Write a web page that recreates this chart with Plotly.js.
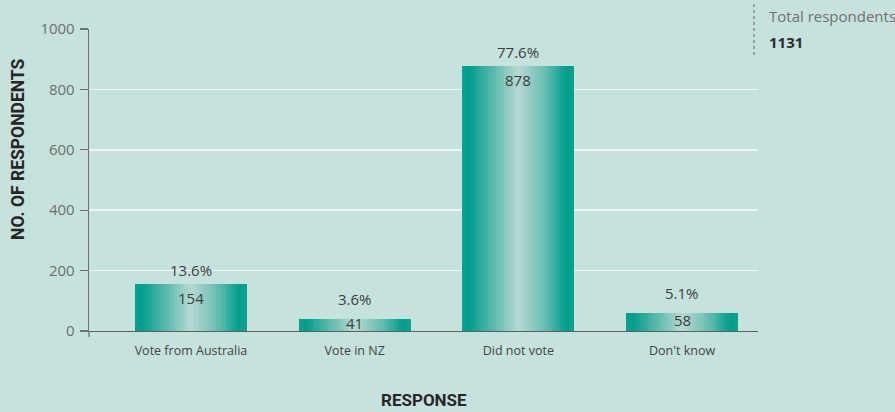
<!DOCTYPE html>
<html>
<head>
<meta charset="utf-8">
<script src="https://cdn.plot.ly/plotly-3.0.1.min.js"></script>
<style>
  html, body { margin: 0; padding: 0; background: #c6e2dd; }
  #chart { width: 895px; height: 412px; }
</style>
</head>
<body>
<div id="chart"></div>
<script>
// ---- data ----
const categories = ["Vote from Australia", "Vote in NZ", "Did not vote", "Don't know"];
const respondents = [154, 41, 878, 58];
const percentLabels = ["13.6%", "3.6%", "77.6%", "5.1%"];
const totalRespondents = 1131;
const yTicks = [0, 200, 400, 600, 800, 1000];

// ---- styling ----
const BG = "#c6e2dd";
const FONT = "Open Sans, Noto Sans, sans-serif";
const BAR_W = 0.684;
const N_SLICES = 40;
// horizontal gradient profile across bar width: [position, [r,g,b]]
const profile = [
  [0.00, [10, 160, 142]],
  [0.06, [0, 158, 140]],
  [0.25, [80, 182, 168]],
  [0.50, [182, 217, 211]],
  [0.72, [110, 192, 180]],
  [0.93, [0, 158, 140]],
  [1.00, [12, 162, 144]]
];
function colorAt(t) {
  for (let k = 0; k < profile.length - 1; k++) {
    const [p0, c0] = profile[k], [p1, c1] = profile[k + 1];
    if (t >= p0 && t <= p1) {
      const f = (t - p0) / (p1 - p0);
      const c = c0.map((v, j) => Math.round(v + (c1[j] - v) * f));
      return `rgb(${c[0]},${c[1]},${c[2]})`;
    }
  }
  return "rgb(0,158,140)";
}

const traces = [];
// base bar
traces.push({
  type: "bar", x: categories, y: respondents,
  width: BAR_W, marker: { color: "rgb(0,158,140)", line: { width: 0 } },
  hoverinfo: "x+y"
});
// gradient slices
const sw = BAR_W / N_SLICES;
for (let i = 0; i < N_SLICES; i++) {
  const t = (i + 0.5) / N_SLICES;
  const w = i === N_SLICES - 1 ? sw : sw * 1.25;
  traces.push({
    type: "bar", x: categories, y: respondents,
    width: categories.map(() => w),
    offset: categories.map(() => -BAR_W / 2 + i * sw),
    marker: { color: colorAt(t), line: { width: 0 } },
    hoverinfo: "skip", showlegend: false
  });
}

// labels
const annotations = [];
categories.forEach((c, i) => {
  const v = respondents[i];
  const small = v < 100;
  annotations.push({
    x: c, y: v, xref: "x", yref: "y", text: percentLabels[i],
    showarrow: false, yanchor: "middle", yshift: small ? 20 : 14,
    font: { family: FONT, size: 15, color: "#3d3d3d" }
  });
  annotations.push({
    x: c, y: small ? v / 2 : v, xref: "x", yref: "y", text: String(v),
    showarrow: false, yanchor: "middle", yshift: small ? 2 : -14,
    font: { family: FONT, size: 15, color: "#3d3d3d" }
  });
});
// axis titles
annotations.push({
  xref: "paper", yref: "paper", x: -0.106, y: 0.6, text: "NO. OF RESPONDENTS",
  textangle: -90, showarrow: false, xanchor: "center", yanchor: "middle",
  font: { family: "Roboto, sans-serif", size: 17.5, color: "#262626", weight: 700 }
});
annotations.push({
  xref: "paper", yref: "paper", x: 0.5, y: -0.228, text: "RESPONSE",
  showarrow: false, xanchor: "center", yanchor: "middle",
  font: { family: "Roboto, sans-serif", size: 17, color: "#262626", weight: 700 }
});
// total respondents
annotations.push({
  xref: "paper", yref: "paper", x: 1.0135, y: 1.042, text: "Total respondents",
  showarrow: false, xanchor: "left", yanchor: "middle",
  font: { family: FONT, size: 15, color: "#707070" }
});
annotations.push({
  xref: "paper", yref: "paper", x: 1.0135, y: 0.957, text: "<b>" + totalRespondents + "</b>",
  showarrow: false, xanchor: "left", yanchor: "middle",
  font: { family: FONT, size: 15, color: "#2e2e2e" }
});

const layout = {
  width: 895, height: 412,
  margin: { l: 89, r: 137, t: 29, b: 81 },
  paper_bgcolor: BG, plot_bgcolor: BG,
  barmode: "overlay", bargap: 0,
  showlegend: false,
  xaxis: {
    type: "category", range: [-0.623, 3.464],
    showline: true, linecolor: "#5e5e5e", linewidth: 1.3,
    ticks: "", showgrid: false, zeroline: false,
    ticklabelstandoff: 8,
    tickfont: { family: FONT, size: 12.5, color: "#444" }
  },
  yaxis: {
    range: [0, 1000], tickvals: yTicks, ticktext: yTicks.map(String),
    showline: true, linecolor: "#707070", linewidth: 1.3,
    ticks: "outside", ticklen: 8, tickcolor: "#707070", tickwidth: 1.3,
    showgrid: true, gridcolor: "#eef7f5", gridwidth: 1.5,
    zeroline: false, ticklabelstandoff: 2,
    tickfont: { family: FONT, size: 15, color: "#6e6e6e" }
  },
  shapes: [
    { type: "line", xref: "paper", yref: "paper", x0: 0, x1: 0, y0: -0.02, y1: 0,
      line: { color: "#707070", width: 1.3 } },
    { type: "line", xref: "paper", yref: "paper", x0: 0.994, x1: 0.994, y0: 0.914, y1: 1.09,
      line: { color: "#8a8a8a", width: 1.5, dash: "dot" } }
  ],
  annotations: annotations
};

Plotly.newPlot("chart", traces, layout, { displayModeBar: false, staticPlot: true });
</script>
</body>
</html>
